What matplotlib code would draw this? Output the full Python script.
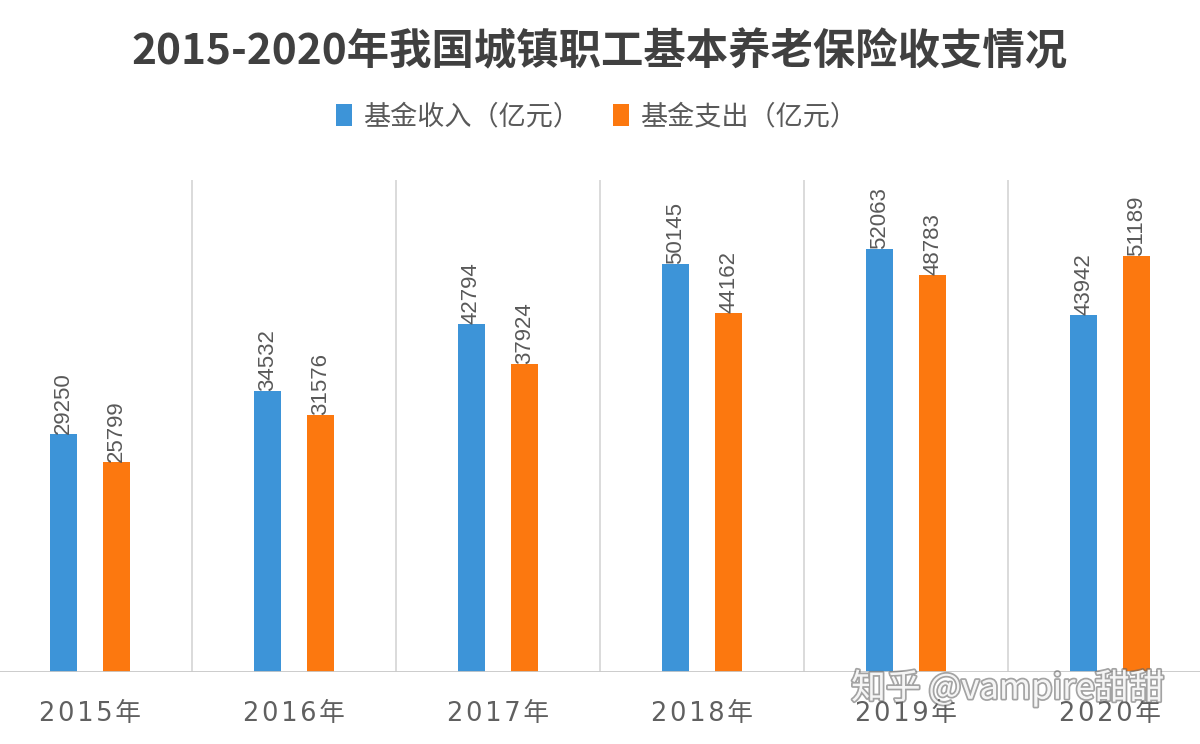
import matplotlib
matplotlib.use("Agg")
import matplotlib.pyplot as plt
import matplotlib.patheffects as pe
import numpy as np

YEARS = ["2015年", "2016年", "2017年", "2018年", "2019年", "2020年"]
INCOME = [29250, 34532, 42794, 50145, 52063, 43942]
EXPENSE = [25799, 31576, 37924, 44162, 48783, 51189]

TITLE = "2015-2020年我国城镇职工基本养老保险收支情况"
LABEL_INCOME = "基金收入（亿元）"
LABEL_EXPENSE = "基金支出（亿元）"
WATERMARK = "知乎 @vampire甜甜"

BLUE = "#3d94d8"
ORANGE = "#fc780f"
TEXT_GRAY = "#595959"

plt.rcParams["font.family"] = ["Noto Sans CJK SC", "DejaVu Sans"]

fig = plt.figure(figsize=(12, 7.44), dpi=100)
ax = fig.add_axes([0, 0.0968, 1, 0.6613])

x = np.arange(len(YEARS))
width = 0.132
offset = 0.13

bars_in = ax.bar(x - offset, INCOME, width, color=BLUE, label=LABEL_INCOME)
bars_out = ax.bar(x + offset, EXPENSE, width, color=ORANGE, label=LABEL_EXPENSE)

for bars in (bars_in, bars_out):
    for b in bars:
        ax.text(b.get_x() + b.get_width() / 2, b.get_height(), f"{int(b.get_height())}",
                rotation=90, ha="center", va="bottom", fontsize=16,
                family=["Liberation Sans", "DejaVu Sans"], color=TEXT_GRAY)

# vertical separators between years
for xs in x[:-1] + 0.5:
    ax.axvline(xs, color="#d4d4d4", lw=1.2, zorder=0)

ax.axhline(0, color="#c8c8c8", lw=2, zorder=3)

ax.set_xlim(-0.441, 5.441)
ax.set_ylim(0, 60500)
ax.set_yticks([])
ax.set_xticks(x)
# hair spaces to mimic the letter-spaced year labels
ax.set_xticklabels(["\u200a".join(y) for y in YEARS],
                   family=["DejaVu Sans", "Noto Sans CJK SC"],
                   fontsize=18.5, color="#606060")
ax.tick_params(axis="x", length=0, pad=21)
for side in ("top", "right", "left", "bottom"):
    ax.spines[side].set_visible(False)

fig.text(0.5, 0.93, TITLE, ha="center", va="center", fontsize=30.5,
         fontweight="bold", color="#404040")

fig.legend(loc="center", bbox_to_anchor=(0.497, 0.843), ncol=2, frameon=False,
           fontsize=19.5, handlelength=0.6, handleheight=0.9, handletextpad=0.4,
           columnspacing=1.2, labelcolor=TEXT_GRAY)

fig.text(0.84, 0.075, WATERMARK, ha="center", va="center", fontsize=25,
         color="white", alpha=0.9,
         path_effects=[pe.withStroke(linewidth=2.5, foreground="#666666", alpha=0.6)])

fig.savefig("out.png", dpi=100)
